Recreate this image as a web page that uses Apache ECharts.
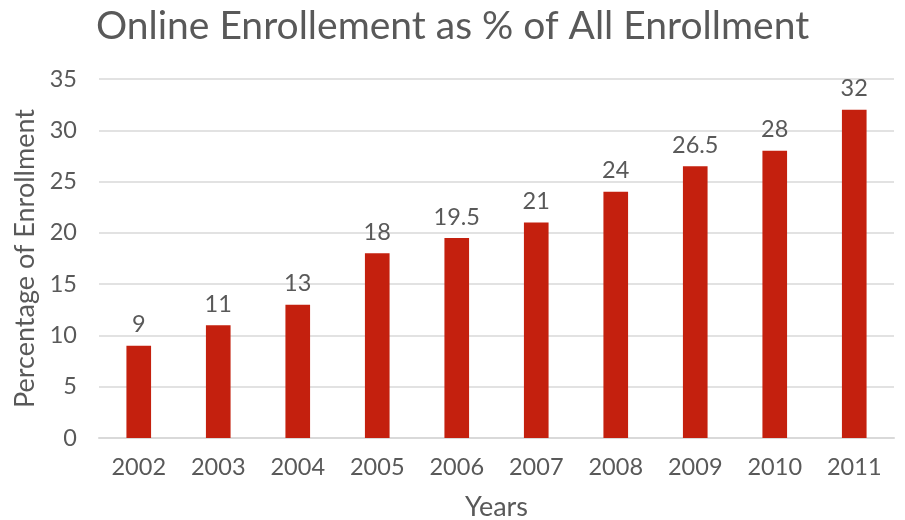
<!DOCTYPE html>
<html><head><meta charset="utf-8">
<script src="https://cdn.jsdelivr.net/npm/echarts@6/dist/echarts.min.js"></script>
<style>html,body{margin:0;padding:0;background:#fff}#c{width:905px;height:520px}</style>
</head><body><div id="c"></div>
<script>
const years = ['2002','2003','2004','2005','2006','2007','2008','2009','2010','2011'];
const values = [9, 11, 13, 18, 19.5, 21, 24, 26.5, 28, 32];
const yTicks = {min: 0, max: 35, interval: 5};

const chart = echarts.init(document.getElementById('c'));
const txt = '#595959';
const ff = 'Lato, "Open Sans", sans-serif';
chart.setOption({
  animation: false,
  title: {text: 'Online Enrollement as % of All Enrollment', left: 'center', top: 2,
    textStyle: {color: txt, fontSize: 39, fontWeight: 'normal', fontFamily: ff}},
  grid: {left: 99, right: 11, top: 79, bottom: 82, outerBoundsMode: 'none', containLabel: false},
  xAxis: {type: 'category', data: years, name: 'Years', nameLocation: 'middle', nameGap: 56,
    nameTextStyle: {color: txt, fontSize: 27, fontFamily: ff},
    axisLine: {lineStyle: {color: '#d9d9d9', width: 2}}, axisTick: {show: false},
    axisLabel: {color: txt, fontSize: 23.5, fontFamily: ff, margin: 17}},
  yAxis: {type: 'value', min: yTicks.min, max: yTicks.max, interval: yTicks.interval,
    name: 'Percentage of Enrollment', nameLocation: 'middle', nameGap: 50, nameRotate: 90,
    nameTextStyle: {color: txt, fontSize: 27, fontFamily: ff},
    axisLine: {show: false}, axisTick: {show: false},
    axisLabel: {color: txt, fontSize: 23.5, fontFamily: ff, margin: 22},
    splitLine: {lineStyle: {color: '#d9d9d9', width: 1.5}}},
  series: [{type: 'bar', data: values, barWidth: '31%',
    itemStyle: {color: '#C4200E'},
    label: {show: true, position: 'top', distance: 9, color: txt, fontSize: 23.5, fontFamily: ff}}]
});
</script></body></html>
